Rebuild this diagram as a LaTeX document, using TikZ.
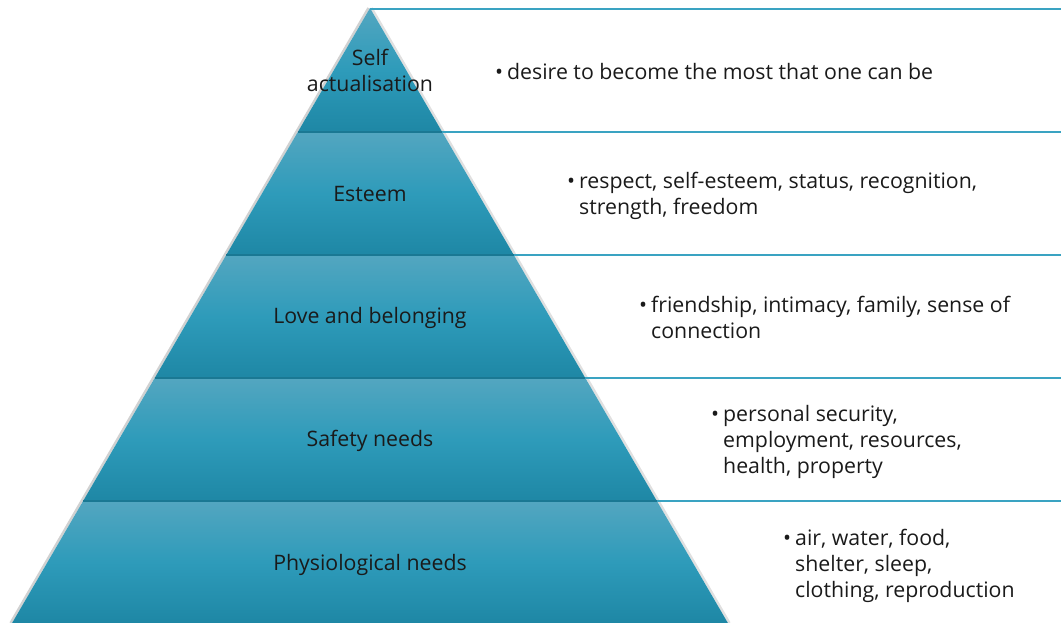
\documentclass[tikz,border=0pt]{standalone}
\usepackage{fontspec}
\setmainfont{Open Sans}
\definecolor{layertop}{HTML}{53A6C0}
\definecolor{layermid}{HTML}{2E9BBA}
\definecolor{layerbot}{HTML}{1E87A5}
\definecolor{layerline}{HTML}{1A7893}
\definecolor{rule}{HTML}{3AA3C2}
\definecolor{txt}{HTML}{1A1A1A}
\newcommand{\bl}{\makebox[0pt][r]{•\hspace{4pt}}}
\begin{document}
\begin{tikzpicture}[x=1pt,y=-1pt,
  lbl/.style={font=\fontsize{21.3}{26}\selectfont, text=txt, inner sep=0pt, align=center},
  desc/.style={font=\fontsize{21.3}{26}\selectfont, text=txt, inner sep=0pt, align=left, anchor=west},
  hrule/.style={draw=rule, line width=2pt},
  layer/.style={top color=layertop, bottom color=layerbot, middle color=layermid}]
\useasboundingbox (0,0) rectangle (1061,623);
% boundary coordinates
\coordinate (a) at (370,8);
\coordinate (a0) at (370,9);
\coordinate (l1) at (297.8,132); \coordinate (r1) at (442.2,132);
\coordinate (l2) at (226.2,255); \coordinate (r2) at (513.8,255);
\coordinate (l3) at (154.7,378); \coordinate (r3) at (585.3,378);
\coordinate (l4) at (83.1,501); \coordinate (r4) at (656.9,501);
\coordinate (l5) at (12.1,623); \coordinate (r5) at (727.9,623);
% faint shadow on edges
\draw[black!18, line width=2.5pt] ([xshift=-1.5pt]a) -- ([xshift=-1.5pt]l5);
\draw[black!12, line width=2.5pt] ([xshift=1.5pt]a) -- ([xshift=1.5pt]r5);
% layers
\shade[layer] (a) -- (r1) -- (l1) -- cycle;
\shade[layer] (l1) -- (r1) -- (r2) -- (l2) -- cycle;
\shade[layer] (l2) -- (r2) -- (r3) -- (l3) -- cycle;
\shade[layer] (l3) -- (r3) -- (r4) -- (l4) -- cycle;
\shade[layer] (l4) -- (r4) -- (r5) -- (l5) -- cycle;
\foreach \i in {1,2,3,4}{\draw[layerline, line width=1.2pt] (l\i) -- (r\i);}
% right rules
\coordinate (e0) at (1061,9);
\coordinate (e1) at (1061,132);
\coordinate (e2) at (1061,255);
\coordinate (e3) at (1061,378);
\coordinate (e4) at (1061,501);
\draw[hrule] (a0) -- (e0);
\draw[hrule] (r1) -- (e1);
\draw[hrule] (r2) -- (e2);
\draw[hrule] (r3) -- (e3);
\draw[hrule] (r4) -- (e4);
% pyramid labels
\node[lbl] (n1) at (370,70) {Self\\actualisation};
\node[lbl] (n2) at (370,194) {Esteem};
\node[lbl] (n3) at (370,318) {Love and belonging};
\node[lbl] (n4) at (370,441) {Safety needs};
\node[lbl] (n5) at (370,565) {Physiological needs};
% descriptions
\node[desc] (d1) at (507,72) {\bl desire to become the most that one can be};
\node[desc] (d2) at (579,196) {\bl respect, self-esteem, status, recognition,\\strength, freedom};
\node[desc] (d3) at (651,317) {\bl friendship, intimacy, family, sense of\\connection};
\node[desc] (d4) at (723,442) {\bl personal security,\\employment, resources,\\health, property};
\node[desc] (d5) at (795,566) {\bl air, water, food,\\shelter, sleep,\\clothing, reproduction};
\end{tikzpicture}
\end{document}
